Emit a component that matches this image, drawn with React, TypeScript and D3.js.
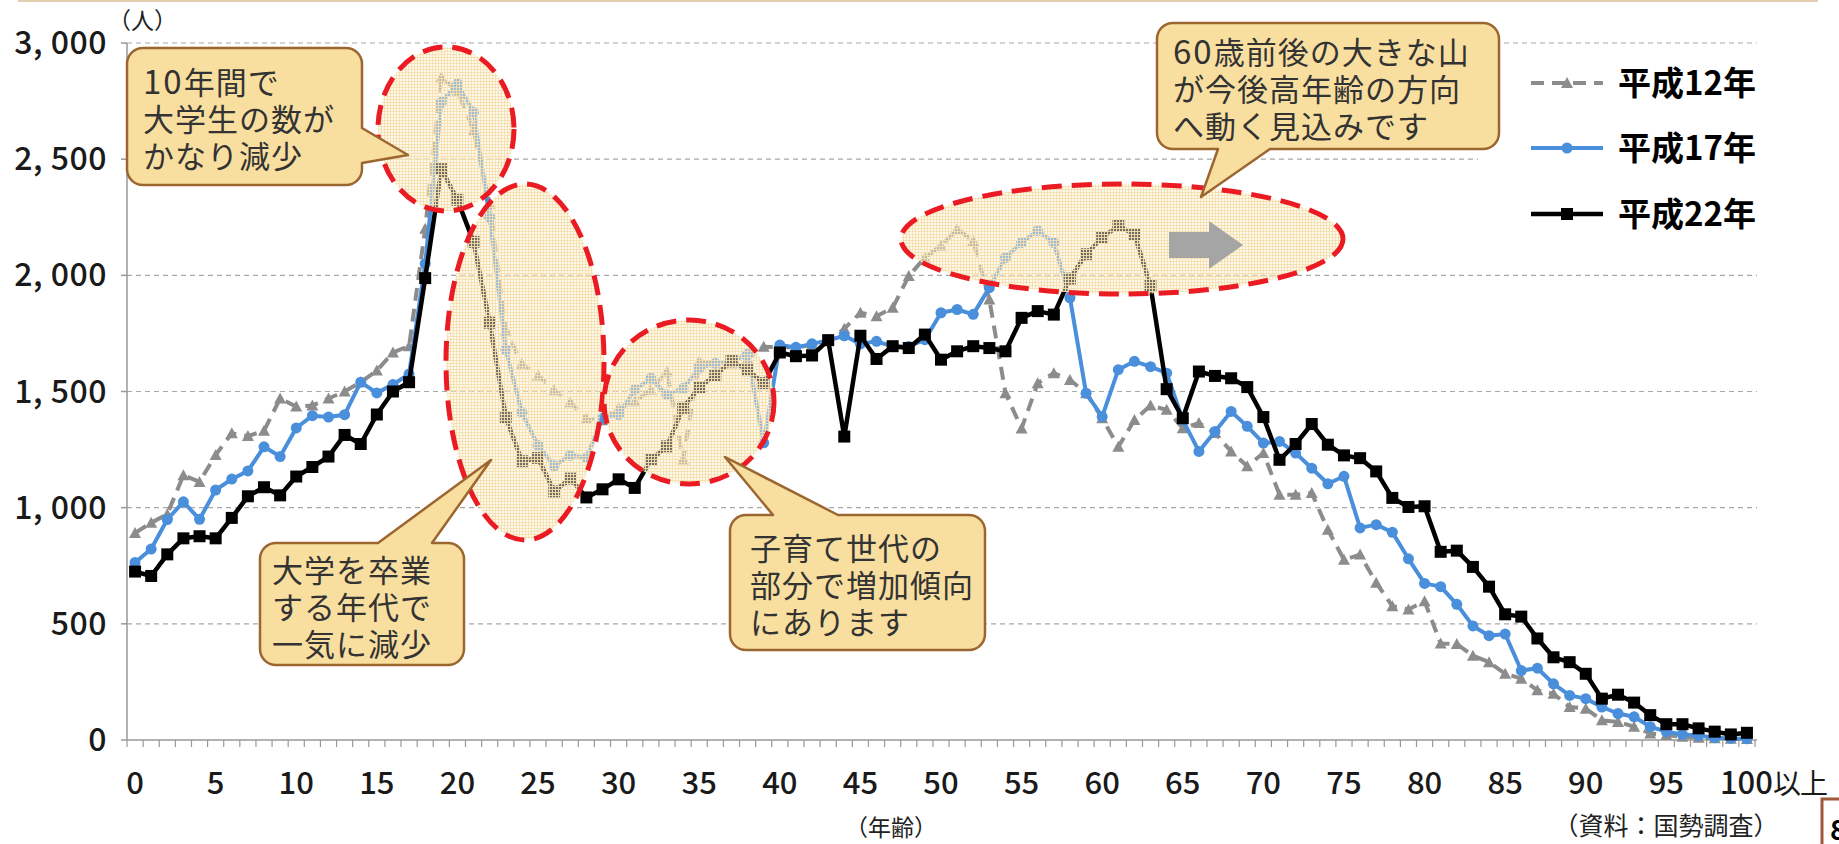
import { line, scaleLinear, scalePoint } from "d3";

// ages 0..100 (100 = "100以上")
const ages = Array.from({ length: 101 }, (_, i) => i);
const xTickAges = [0, 5, 10, 15, 20, 25, 30, 35, 40, 45, 50, 55, 60, 65, 70, 75, 80, 85, 90, 95, 100];
const xTickLabels = ["0", "5", "10", "15", "20", "25", "30", "35", "40", "45", "50", "55", "60", "65", "70", "75", "80", "85", "90", "95", "100"];
const yTicks = [0, 500, 1000, 1500, 2000, 2500, 3000];
const yTickLabels = ["0", "500", "1, 000", "1, 500", "2, 000", "2, 500", "3, 000"];

const seriesNames = ["平成12年", "平成17年", "平成22年"];

// 平成12年
const h12 = [
  891, 935, 972, 1140, 1111, 1227, 1320, 1308, 1331, 1470,
  1435, 1440, 1470, 1500, 1540, 1590, 1668, 1695, 2200, 2852,
  2795, 2623, 2308, 1763, 1619, 1569, 1505, 1454, 1383, 1376,
  1429, 1457, 1507, 1586, 1207, 1629, 1625, 1620, 1640, 1693,
  1690, 1690, 1700, 1720, 1770, 1839, 1824, 1860, 1997, 2076,
  2127, 2199, 2148, 1896, 1493, 1341, 1536, 1579, 1550, 1493,
  1385, 1262, 1377, 1440, 1421, 1342, 1364, 1321, 1242, 1178,
  1235, 1056, 1056, 1063, 905, 776, 798, 677, 576, 562,
  597, 415, 413, 363, 335, 285, 264, 214, 199, 142,
  135, 85, 78, 57, 28, 21, 14, 10, 7, 5,
  4,
];

// 平成17年
const h17 = [
  764, 822, 949, 1025, 950, 1076, 1123, 1158, 1262, 1220,
  1343, 1396, 1390, 1400, 1540, 1494, 1530, 1575, 2050, 2745,
  2824, 2702, 2250, 1680, 1410, 1268, 1180, 1225, 1215, 1386,
  1400, 1507, 1557, 1486, 1514, 1600, 1621, 1629, 1660, 1279,
  1700, 1690, 1705, 1720, 1740, 1705, 1716, 1694, 1694, 1723,
  1839, 1853, 1832, 1947, 2076, 2141, 2192, 2141, 1903, 1493,
  1392, 1594, 1630, 1607, 1579, 1378, 1242, 1328, 1414, 1350,
  1278, 1285, 1235, 1170, 1103, 1135, 913, 927, 894, 780,
  674, 660, 584, 491, 449, 456, 299, 309, 242, 192,
  178, 142, 114, 100, 57, 36, 24, 19, 10, 7,
  5,
];

// 平成22年
const h22 = [
  725, 706, 799, 868, 877, 868, 956, 1049, 1088, 1053,
  1134, 1175, 1220, 1313, 1274, 1401, 1500, 1540, 1988, 2457,
  2325, 2144, 1796, 1390, 1200, 1214, 1070, 1125, 1044, 1079,
  1122, 1085, 1206, 1264, 1430, 1518, 1570, 1632, 1592, 1536,
  1668, 1652, 1655, 1721, 1306, 1740, 1640, 1695, 1687, 1745,
  1637, 1673, 1695, 1687, 1673, 1817, 1846, 1831, 1986, 2091,
  2163, 2213, 2177, 1954, 1510, 1385, 1586, 1567, 1557, 1519,
  1390, 1206, 1274, 1360, 1271, 1225, 1213, 1156, 1042, 1003,
  1006, 810, 815, 745, 660, 541, 531, 437, 356, 335,
  285, 178, 195, 161, 107, 68, 68, 50, 36, 24,
  31,
];

const FONT = "'Noto Sans CJK JP', 'Noto Sans', sans-serif";
const GRAY = "#8c8c8c";
const BLUE = "#4a8fdb";
const BLACK = "#000000";

type Side = "top" | "right" | "bottom";

function calloutPath(
  x0: number, y0: number, w: number, h: number, r: number,
  side: Side, a: number, b: number, tip: [number, number]
) {
  const x1 = x0 + w;
  const y1 = y0 + h;
  let p = `M${x0 + r},${y0}`;
  if (side === "top") p += ` L${a},${y0} L${tip[0]},${tip[1]} L${b},${y0}`;
  p += ` L${x1 - r},${y0} A${r},${r} 0 0 1 ${x1},${y0 + r}`;
  if (side === "right") p += ` L${x1},${a} L${tip[0]},${tip[1]} L${x1},${b}`;
  p += ` L${x1},${y1 - r} A${r},${r} 0 0 1 ${x1 - r},${y1}`;
  if (side === "bottom") p += ` L${b},${y1} L${tip[0]},${tip[1]} L${a},${y1}`;
  p += ` L${x0 + r},${y1} A${r},${r} 0 0 1 ${x0},${y1 - r}`;
  p += ` L${x0},${y0 + r} A${r},${r} 0 0 1 ${x0 + r},${y0} Z`;
  return p;
}

interface CalloutProps {
  box: [number, number, number, number];
  side: Side;
  a: number;
  b: number;
  tip: [number, number];
  lines: string[];
  tx: number;
  ty: number;
}

// digits in the callouts are set a little wider, like the original
function renderLine(t: string) {
  const parts = t.split(/(\d+)/).filter((s) => s.length > 0);
  return parts.map((s, i) =>
    /\d/.test(s) ? (
      <tspan key={i} fontSize={33} letterSpacing={2}>{s}</tspan>
    ) : (
      <tspan key={i}>{s}</tspan>
    )
  );
}

function Callout({ box, side, a, b, tip, lines, tx, ty }: CalloutProps) {
  return (
    <g>
      <path
        d={calloutPath(box[0], box[1], box[2], box[3], 16, side, a, b, tip)}
        fill="#f9df9f"
        stroke="#9c6630"
        strokeWidth={2.5}
        strokeLinejoin="round"
      />
      {lines.map((t, i) => (
        <text
          key={i}
          x={tx}
          y={ty + i * 37}
          fontFamily={FONT}
          fontSize={31}
          letterSpacing={1}
          fill="#333"
        >
          {renderLine(t)}
        </text>
      ))}
    </g>
  );
}

export default function App() {
  const width = 1839;
  const height = 844;

  const x = scalePoint<number>().domain(ages).range([127, 1755]).padding(0.5);
  const y = scaleLinear().domain([0, 3000]).range([740, 43]);
  const step = x.step();

  const path = line<number>()
    .x((_, i) => x(ages[i]) as number)
    .y((d) => y(d));

  const tri = (cx: number, cy: number) =>
    `M${cx},${cy - 6} L${cx + 6},${cy + 5} L${cx - 6},${cy + 5} Z`;

  const legendY = [83, 148, 214];

  return (
    <svg
      width={width}
      height={height}
      style={{ position: "absolute", left: 0, top: 0, background: "#fff" }}
    >
      <defs>
        <pattern id="tex" width={3} height={3} patternUnits="userSpaceOnUse">
          <rect width={3} height={3} fill="#fdf2d8" fillOpacity={0.45} />
          <path d="M0,0.5H3M0.5,0V3" stroke="#f7dfae" strokeWidth={1} strokeOpacity={0.9} />
        </pattern>
      </defs>

      {/* top rule */}
      <line x1={18} x2={1818} y1={1} y2={1} stroke="#e3cfae" strokeWidth={2} />

      {/* grid */}
      {yTicks.filter((v) => v > 0).map((v) => (
        <line
          key={`g${v}`}
          x1={127}
          x2={1757}
          y1={y(v)}
          y2={y(v)}
          stroke="#a8a8a8"
          strokeWidth={1.2}
          strokeDasharray="5 4"
        />
      ))}

      {/* axes */}
      <line x1={127} x2={127} y1={43} y2={740} stroke="#999" strokeWidth={1.5} />
      <line x1={127} x2={1757} y1={740} y2={740} stroke="#999" strokeWidth={1.5} />
      {yTicks.map((v) => (
        <line key={`yt${v}`} x1={121} x2={127} y1={y(v)} y2={y(v)} stroke="#999" strokeWidth={1.5} />
      ))}
      {ages.concat([101]).map((a) => (
        <line
          key={`xt${a}`}
          x1={127 + a * step}
          x2={127 + a * step}
          y1={740}
          y2={747}
          stroke="#999"
          strokeWidth={1.2}
        />
      ))}
      {yTicks.map((v, i) => (
        <text
          key={`yl${v}`}
          x={107}
          y={y(v) + 11}
          textAnchor="end"
          fontFamily={FONT}
          fontSize={32}
          fontWeight={500}
          letterSpacing={0.5}
          fill="#1a1a1a"
        >
          {yTickLabels[i]}
        </text>
      ))}
      {xTickAges.map((a, i) => (
        <text
          key={`xl${a}`}
          x={a === 100 ? (x(a) as number) - 27 : (x(a) as number)}
          y={794}
          textAnchor={a === 100 ? "start" : "middle"}
          fontFamily={FONT}
          fontSize={31}
          fontWeight={500}
          fill="#1a1a1a"
        >
          {xTickLabels[i]}
          {a === 100 && <tspan fontSize={28} fontWeight={400} letterSpacing={-1}>以上</tspan>}
        </text>
      ))}
      <text x={108} y={29} fontFamily={FONT} fontSize={23} fill="#222">（人）</text>
      <text x={891} y={836} textAnchor="middle" fontFamily={FONT} fontSize={23} fill="#222">（年齢）</text>
      <text x={1666} y={835} textAnchor="middle" fontFamily={FONT} fontSize={25} fill="#222">（資料：国勢調査）</text>

      {/* series */}
      <path d={path(h12) ?? ""} fill="none" stroke={GRAY} strokeWidth={4} strokeDasharray="13 8" />
      {h12.map((v, i) => (
        <path key={`m12-${i}`} d={tri(x(ages[i]) as number, y(v))} fill={GRAY} />
      ))}
      <path d={path(h17) ?? ""} fill="none" stroke={BLUE} strokeWidth={4} strokeLinejoin="round" />
      {h17.map((v, i) => (
        <circle key={`m17-${i}`} cx={x(ages[i])} cy={y(v)} r={5.5} fill={BLUE} />
      ))}
      <path d={path(h22) ?? ""} fill="none" stroke={BLACK} strokeWidth={4.5} strokeLinejoin="round" />
      {h22.map((v, i) => (
        <rect key={`m22-${i}`} x={(x(ages[i]) as number) - 6} y={y(v) - 6} width={12} height={12} fill={BLACK} />
      ))}

      {/* highlight ellipses */}
      {[
        [446, 129, 68, 82],
        [525, 362, 79, 178],
        [689, 402, 85, 82],
        [1122, 239, 221, 55],
      ].map(([cx, cy, rx, ry], i) => (
        <ellipse
          key={`e${i}`}
          cx={cx}
          cy={cy}
          rx={rx}
          ry={ry}
          fill="url(#tex)"
          stroke="#ea1b22"
          strokeWidth={5}
          strokeDasharray="20 10"
        />
      ))}
      <path d="M1169,232 L1209,232 L1209,221 L1243,245 L1209,269 L1209,258 L1169,258 Z" fill="#a5a5a5" />

      {/* legend */}
      <rect x={1478} y={52} width={322} height={210} fill="#fff" />
      {seriesNames.map((name, i) => {
        const ly = legendY[i];
        return (
          <g key={name}>
            {i === 0 && (
              <>
                <line x1={1531} x2={1603} y1={ly} y2={ly} stroke={GRAY} strokeWidth={4} strokeDasharray="13 8" />
                <path d={tri(1567, ly)} fill={GRAY} />
              </>
            )}
            {i === 1 && (
              <>
                <line x1={1531} x2={1603} y1={ly} y2={ly} stroke={BLUE} strokeWidth={4} />
                <circle cx={1567} cy={ly} r={5.5} fill={BLUE} />
              </>
            )}
            {i === 2 && (
              <>
                <line x1={1531} x2={1603} y1={ly} y2={ly} stroke={BLACK} strokeWidth={4.5} />
                <rect x={1561} y={ly - 6} width={12} height={12} fill={BLACK} />
              </>
            )}
            <text x={1618} y={ly + 12} fontFamily={FONT} fontSize={33} fontWeight={700} fill="#000">
              {name}
            </text>
          </g>
        );
      })}

      {/* callouts */}
      <Callout
        box={[127, 48, 235, 137]}
        side="right"
        a={128}
        b={163}
        tip={[408, 155]}
        lines={["10年間で", "大学生の数が", "かなり減少"]}
        tx={143}
        ty={94}
      />
      <Callout
        box={[260, 543, 204, 122]}
        side="top"
        a={378}
        b={432}
        tip={[491, 460]}
        lines={["大学を卒業", "する年代で", "一気に減少"]}
        tx={272}
        ty={582}
      />
      <Callout
        box={[730, 515, 255, 135]}
        side="top"
        a={773}
        b={838}
        tip={[725, 457]}
        lines={["子育て世代の", "部分で増加傾向", "にあります"]}
        tx={750}
        ty={560}
      />
      <Callout
        box={[1157, 23, 342, 126]}
        side="bottom"
        a={1218}
        b={1270}
        tip={[1201, 197]}
        lines={["60歳前後の大きな山", "が今後高年齢の方向", "へ動く見込みです"]}
        tx={1173}
        ty={64}
      />

      {/* page number tab (cut off at edge) */}
      <rect x={1822} y={799} width={40} height={60} fill="#fff" stroke="#a0583a" strokeWidth={3} />
      <text x={1830} y={840} fontFamily={FONT} fontSize={28} fontWeight={700} fill="#000">8</text>
    </svg>
  );
}
